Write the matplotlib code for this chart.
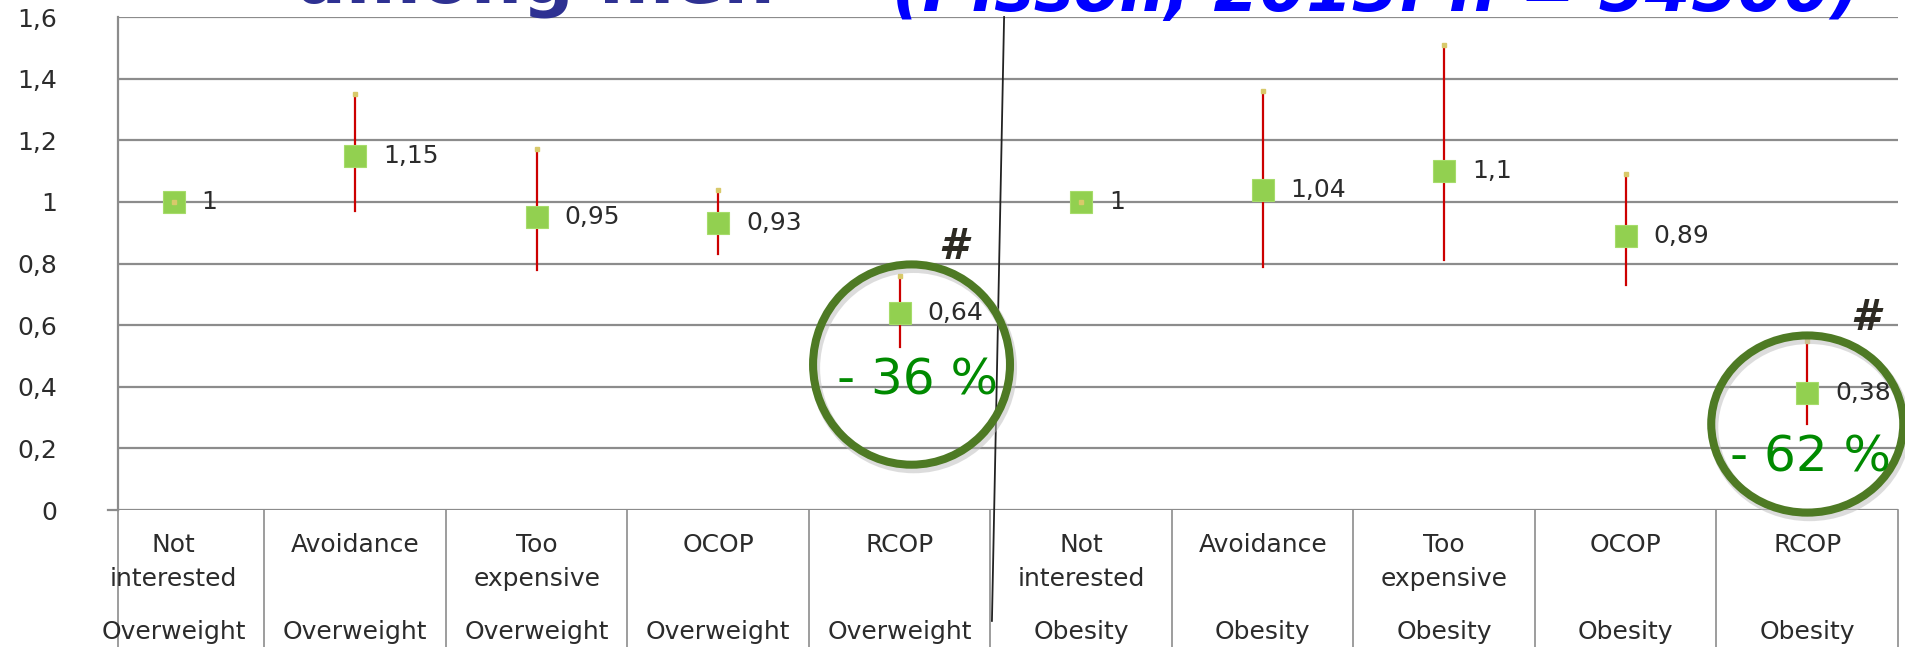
import matplotlib
matplotlib.use("Agg")
import matplotlib.pyplot as plt
from matplotlib.patches import Ellipse

reasons = ["Not\ninterested", "Avoidance", "Too\nexpensive", "OCOP", "RCOP"] * 2
groups = ["Overweight"] * 5 + ["Obesity"] * 5
odds = [1, 1.15, 0.95, 0.93, 0.64, 1, 1.04, 1.1, 0.89, 0.38]
ci_low = [1, 0.97, 0.78, 0.83, 0.53, 1, 0.79, 0.81, 0.73, 0.28]
ci_high = [1, 1.35, 1.17, 1.04, 0.76, 1, 1.36, 1.51, 1.09, 0.55]
yticks = [0, 0.2, 0.4, 0.6, 0.8, 1, 1.2, 1.4, 1.6]
ytick_labels = ["0", "0,2", "0,4", "0,6", "0,8", "1", "1,2", "1,4", "1,6"]

plt.rcParams["font.family"] = ["DejaVu Sans"]
text_col = "#2b2b2b"

fig = plt.figure(figsize=(19.05, 6.47), dpi=100)
ax = fig.add_axes([118 / 1905, 1 - 510 / 647, (1898 - 118) / 1905, (510 - 17) / 647])

x = list(range(len(odds)))
ax.set_xlim(-0.307, 9.5)
ax.set_ylim(0, 1.6)

# grid
for v in yticks:
    ax.axhline(v, color="#8c8c8c", lw=1.6, zorder=1)
ax.set_yticks(yticks)
ax.set_yticklabels(ytick_labels, fontsize=18, color=text_col)
ax.tick_params(axis="y", length=0, pad=44)
ax.set_xticks([])
for s in ["top", "right", "bottom"]:
    ax.spines[s].set_visible(False)
ax.spines["left"].set_color("#8c8c8c")
ax.spines["left"].set_linewidth(1.6)

# little tick left of the zero line
ax.plot([-0.36, -0.307], [0, 0], color="#8c8c8c", lw=1.6, clip_on=False)

# confidence intervals
for i in x:
    if ci_high[i] != ci_low[i]:
        ax.plot([i, i], [ci_low[i], ci_high[i]], color="#cc0000", lw=1.6, zorder=2)
ax.plot(x, ci_high, ls="none", marker="s", ms=3, color="#d8c96a", zorder=4)

ax.plot(x, odds, ls="none", marker="s", ms=16, color="#92d050",
        markeredgecolor="#a6dc6a", markeredgewidth=0.8, zorder=3)
for i in x:
    ax.annotate(f"{odds[i]:g}".replace(".", ","), (i, odds[i]), xytext=(20, 0),
                textcoords="offset points", va="center", ha="left",
                fontsize=18, color=text_col, zorder=5)

# category table under the axis
dividers = [-0.307] + [i + 0.5 for i in range(9)] + [9.5]
for d in dividers:
    ax.plot([d, d], [0, -0.45], color="#8c8c8c", lw=1.2, clip_on=False)
for i in x:
    ax.text(i, -0.075, reasons[i], ha="center", va="top", fontsize=18,
            color=text_col, linespacing=1.5, clip_on=False)
    ax.text(i, -0.395, groups[i], ha="center", va="center", fontsize=18,
            color=text_col, clip_on=False)

# separator between the two groups
ax.plot([4.575, 4.508], [1.6, -0.36], color="#222222", lw=1.3, clip_on=False, zorder=6)

# highlighted results
circle_col = "#4e7a24"
for cx, cy, w, h in [(4.065, 0.472, 1.085, 0.65), (9.0, 0.279, 1.058, 0.575)]:
    shadow = Ellipse((cx + 0.012, cy - 0.012), w, h, fill=False, lw=7,
                     edgecolor="#bbbbbb", alpha=0.5, clip_on=False, zorder=6)
    ax.add_patch(shadow)
    ax.add_patch(Ellipse((cx, cy), w, h, fill=False, lw=5.8,
                         edgecolor=circle_col, clip_on=False, zorder=7))
ax.text(4.1, 0.42, "- 36 %", ha="center", va="center", fontsize=36,
        color="#008a00", zorder=8, clip_on=False)
ax.text(9.02, 0.172, "- 62 %", ha="center", va="center", fontsize=36,
        color="#008a00", zorder=8, clip_on=False)
ax.text(4.294, 0.855, "#", ha="center", va="center", fontsize=30,
        fontweight="bold", fontstyle="italic", color="#2d2a22", zorder=8)
ax.text(9.317, 0.623, "#", ha="center", va="center", fontsize=30,
        fontweight="bold", fontstyle="italic", color="#2d2a22", zorder=8)

# slide title, mostly above the top edge
fig.text(297 / 1905, 1 - 3 / 647, "among men", fontsize=52, fontweight="bold",
         color="#2e3192", ha="left", va="baseline")
fig.text(892 / 1905, 1 - 11 / 647, "(Pissoli, 2013: n = 54500)", fontsize=48,
         fontweight="bold", fontstyle="italic", color="#0000ff", ha="left", va="baseline")

fig.savefig("out.png", dpi=100)
